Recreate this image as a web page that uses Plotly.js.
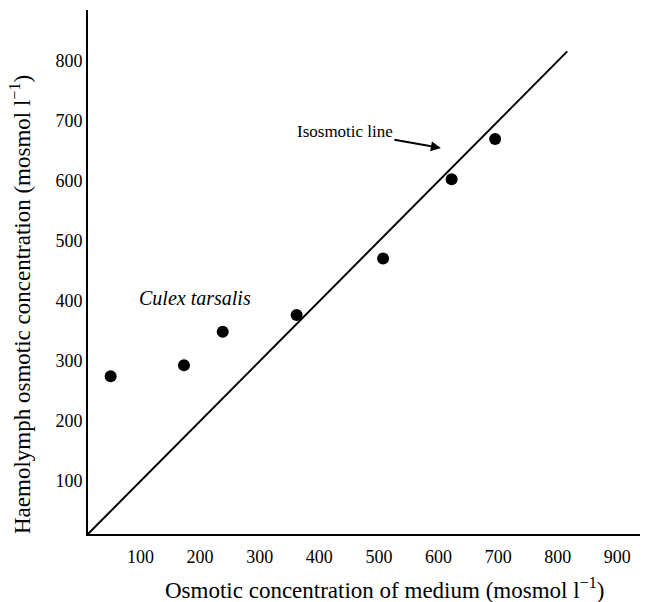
<!DOCTYPE html>
<html>
<head>
<meta charset="utf-8">
<script src="https://cdn.plot.ly/plotly-3.0.1.min.js"></script>
<style>html,body{margin:0;padding:0;background:#fff;}#chart{width:645px;height:602px;}</style>
</head>
<body>
<div id="chart"></div>
<script>
// Culex tarsalis data
const medium = [50, 173, 238, 362, 507, 622, 695];
const haemolymph = [275, 293, 349, 377, 471, 603, 670];
// Isosmotic line (y = x)
const isoX = [12, 816];
const isoY = [12, 816];
const xTicks = [100, 200, 300, 400, 500, 600, 700, 800, 900];
const yTicks = [100, 200, 300, 400, 500, 600, 700, 800];

const font = "Liberation Serif, Times New Roman, serif";

const traces = [
  {x: isoX, y: isoY, mode: 'lines', line: {color: '#000', width: 2}, hoverinfo: 'skip', showlegend: false},
  {x: medium, y: haemolymph, mode: 'markers', marker: {color: '#000', size: 12}, showlegend: false}
];

const layout = {
  width: 645, height: 602,
  margin: {l: 88, r: 5, t: 10, b: 68},
  paper_bgcolor: '#fff', plot_bgcolor: '#fff',
  font: {family: font, color: '#000', size: 18},
  showlegend: false,
  xaxis: {
    range: [12, 938], tickvals: xTicks, ticktext: xTicks.map(String),
    showgrid: false, zeroline: false, showline: true, linecolor: '#000', linewidth: 2,
    ticks: '', ticklabelstandoff: 5, tickfont: {family: font, size: 18}
  },
  yaxis: {
    range: [12, 885], tickvals: yTicks, ticktext: yTicks.map(String),
    showgrid: false, zeroline: false, showline: true, linecolor: '#000', linewidth: 2,
    ticks: '', ticklabelstandoff: 0, tickfont: {family: font, size: 18}
  },
  annotations: [
    {x: 191, y: 405, xref: 'x', yref: 'y', text: '<i>Culex tarsalis</i>', showarrow: false, font: {family: font, size: 20}},
    {x: 604, y: 655, xref: 'x', yref: 'y', text: 'Isosmotic line', showarrow: true,
     ax: -96, ay: -17, arrowhead: 2, arrowsize: 1, arrowwidth: 2, arrowcolor: '#000', standoff: 0,
     font: {family: font, size: 17}},
    {x: 384, y: 588, xref: 'paper', yref: 'paper', text: 'Osmotic concentration of medium (mosmol l<sup>−1</sup>)',
     showarrow: false, font: {family: font, size: 23}, xanchor: 'center', yanchor: 'middle'},
    {x: 20, y: 305, xref: 'paper', yref: 'paper', text: 'Haemolymph osmotic concentration (mosmol l<sup>−1</sup>)',
     showarrow: false, textangle: -90, font: {family: font, size: 23}, xanchor: 'center', yanchor: 'middle'}
  ]
};
// convert pixel positions of the title annotations to paper coordinates
const pw = 645 - 88 - 5, ph = 602 - 10 - 68;
layout.annotations[2].x = (384 - 88) / pw; layout.annotations[2].y = (602 - 68 - 588) / ph;
layout.annotations[3].x = (20 - 88) / pw; layout.annotations[3].y = (602 - 68 - 305) / ph;

Plotly.newPlot('chart', traces, layout, {displayModeBar: false, staticPlot: true});
</script>
</body>
</html>
